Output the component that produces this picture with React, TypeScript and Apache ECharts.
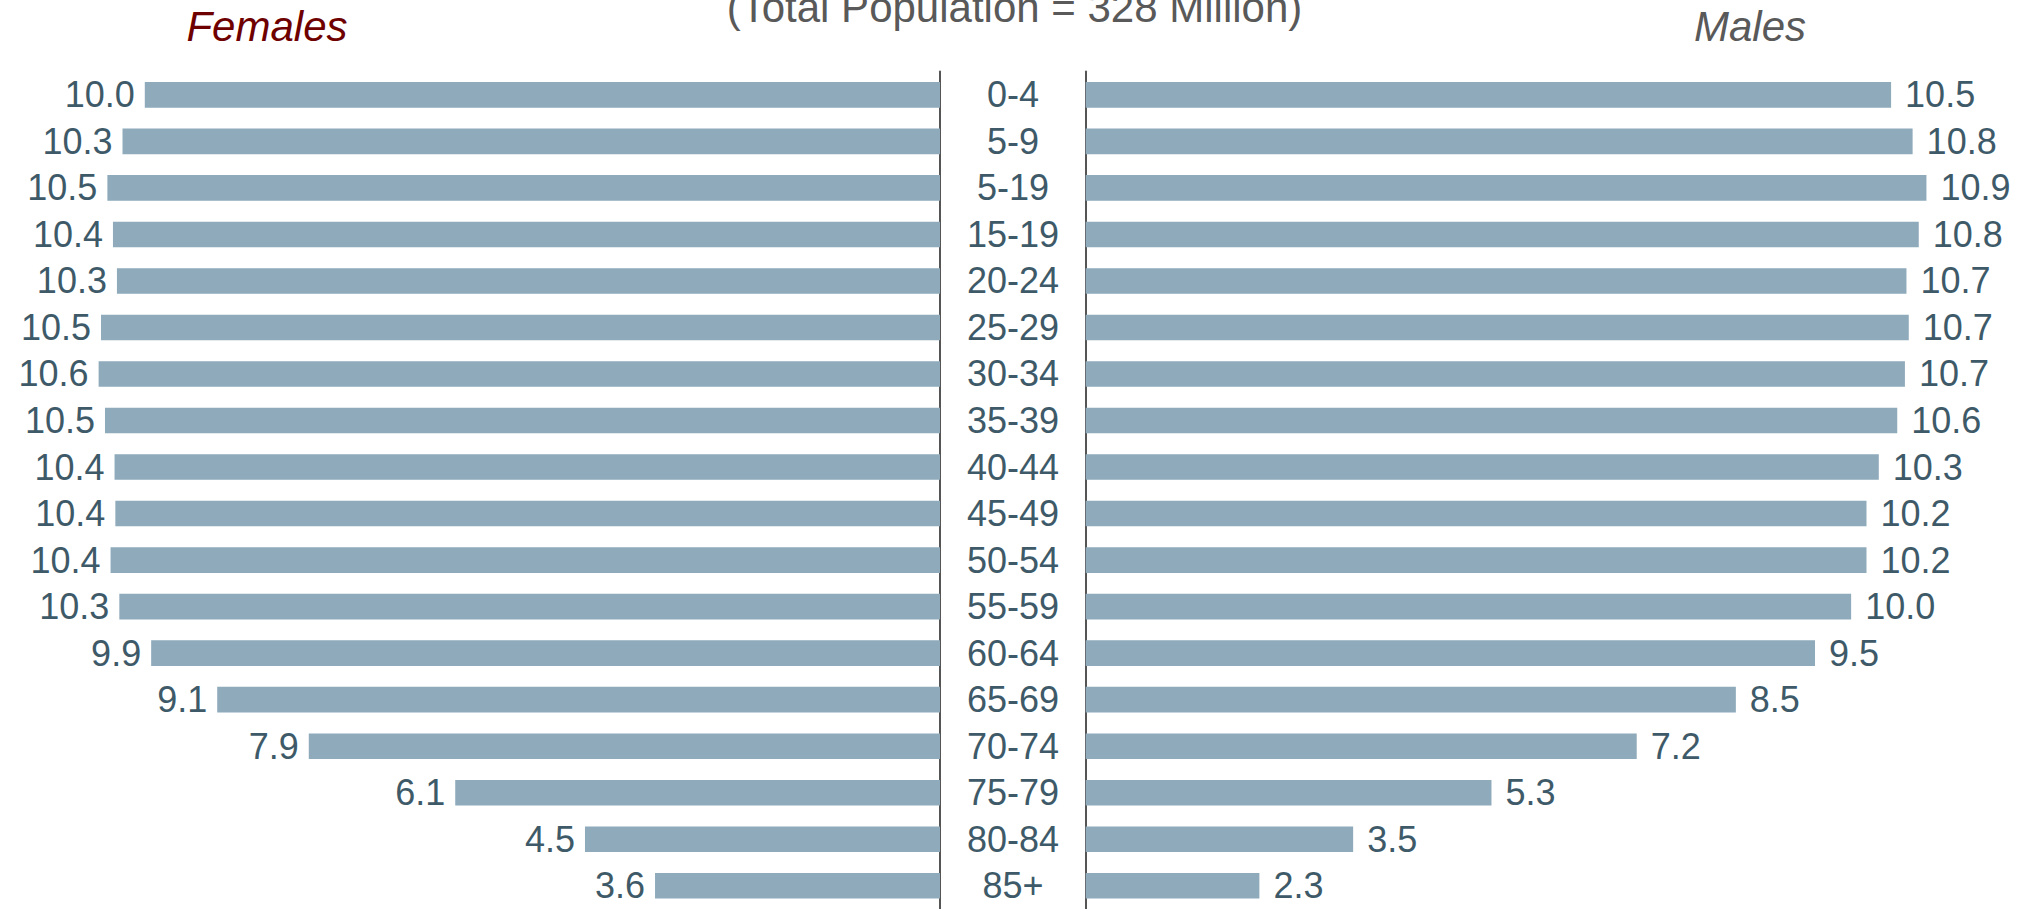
import React, { useEffect, useRef } from "react";
import * as echarts from "echarts";

const categories = [
  "0-4", "5-9", "5-19", "15-19", "20-24", "25-29", "30-34", "35-39", "40-44",
  "45-49", "50-54", "55-59", "60-64", "65-69", "70-74", "75-79", "80-84", "85+",
];

const females = [
  9.99, 10.27, 10.46, 10.39, 10.34, 10.54, 10.57, 10.49, 10.37,
  10.36, 10.42, 10.31, 9.91, 9.08, 7.93, 6.09, 4.46, 3.58,
];

const males = [
  10.48, 10.76, 10.94, 10.84, 10.68, 10.71, 10.66, 10.56, 10.32,
  10.16, 10.16, 9.96, 9.49, 8.46, 7.17, 5.28, 3.48, 2.26,
];

const titleLeft = "Females";
const titleRight = "Males";
const subtitle = "(Total Population = 328 Million)";

const FONT = "'Liberation Sans', Arial, sans-serif";
const BAR = "#8eaabb";
const LABEL = "#3e5a68";

export default function App() {
  const ref = useRef<HTMLDivElement>(null);

  useEffect(() => {
    if (!ref.current) return;
    const chart = echarts.init(ref.current, undefined, { renderer: "svg" });
    const gridTop = 71.6;
    const gridH = 840.6;
    const axisMax = 11.5;
    const wL = axisMax * 79.6;
    const wR = axisMax * 76.85;
    const leftAxisX = 940;
    const rightAxisX = 1085.7;

    const valueLabel = (pos: "left" | "right", dist: number) => ({
      show: true,
      position: pos,
      distance: dist,
      fontSize: 36,
      fontFamily: FONT,
      color: LABEL,
      formatter: (p: any) => Number(p.value).toFixed(1),
    });

    chart.setOption({
      animation: false,
      backgroundColor: "#ffffff",
      textStyle: { fontFamily: FONT },
      grid: [
        { left: leftAxisX - wL, top: gridTop, width: wL, height: gridH, containLabel: false },
        { left: rightAxisX, top: gridTop, width: wR, height: gridH, containLabel: false },
      ],
      xAxis: [
        {
          gridIndex: 0, type: "value", min: 0, max: axisMax, inverse: true,
          show: false, splitLine: { show: false },
        },
        {
          gridIndex: 1, type: "value", min: 0, max: axisMax,
          show: false, splitLine: { show: false },
        },
      ],
      yAxis: [
        {
          gridIndex: 0, type: "category", data: categories, inverse: true,
          position: "right",
          axisLine: { show: true, lineStyle: { color: "#555555", width: 2 } },
          axisTick: { show: false },
          axisLabel: { show: false },
        },
        {
          gridIndex: 1, type: "category", data: categories, inverse: true,
          position: "left",
          axisLine: { show: true, lineStyle: { color: "#555555", width: 2 } },
          axisTick: { show: false },
          axisLabel: {
            show: true, interval: 0, margin: rightAxisX - 1013, align: "center",
            fontSize: 36, fontFamily: FONT, color: LABEL,
          },
        },
      ],
      series: [
        {
          type: "bar", name: titleLeft, xAxisIndex: 0, yAxisIndex: 0,
          data: females, barWidth: "55%",
          itemStyle: { color: BAR },
          label: valueLabel("left", 10),
        },
        {
          type: "bar", name: titleRight, xAxisIndex: 1, yAxisIndex: 1,
          data: males, barWidth: "55%",
          itemStyle: { color: BAR },
          label: valueLabel("right", 14),
        },
      ],
      graphic: [
        {
          type: "text", x: 267, y: 26,
          style: {
            text: titleLeft, fill: "#6e0000",
            font: `italic 42px ${FONT}`,
            textAlign: "center", textVerticalAlign: "middle",
            align: "center", verticalAlign: "middle",
          },
        },
        {
          type: "text", x: 1750, y: 26,
          style: {
            text: titleRight, fill: "#595959",
            font: `italic 42px ${FONT}`,
            textAlign: "center", textVerticalAlign: "middle",
            align: "center", verticalAlign: "middle",
          },
        },
        {
          type: "text", x: 1014.5, y: 7,
          style: {
            text: subtitle, fill: "#595959",
            font: `42px ${FONT}`,
            textAlign: "center", textVerticalAlign: "middle",
            align: "center", verticalAlign: "middle",
          },
        },
      ],
    });

    return () => chart.dispose();
  }, []);

  return (
    <div
      ref={ref}
      style={{ position: "fixed", left: 0, top: 0, width: 2029, height: 909 }}
    />
  );
}
